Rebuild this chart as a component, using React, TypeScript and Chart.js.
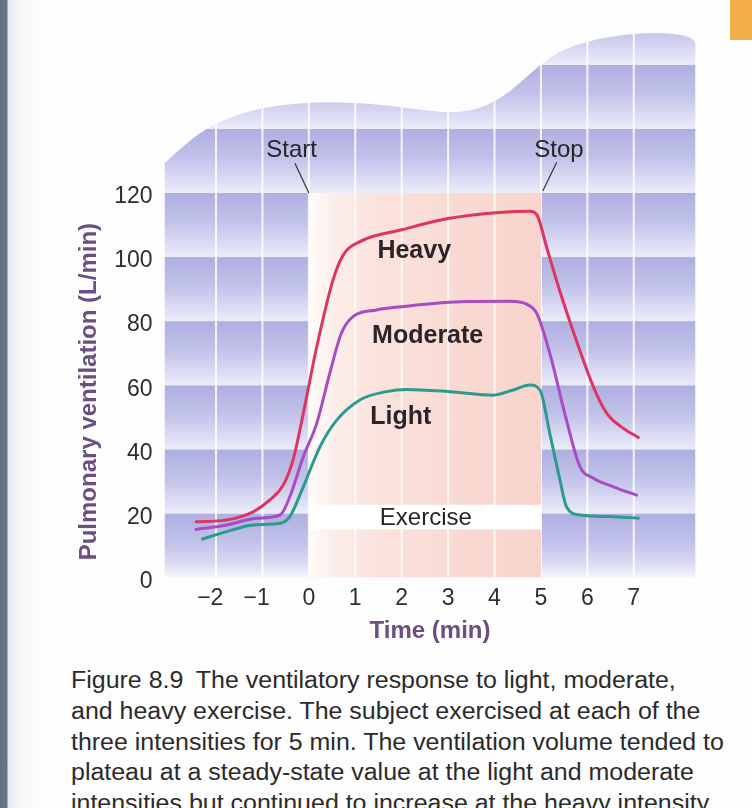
import React, { useEffect, useRef } from "react";
import { Chart, registerables } from "chart.js";

Chart.register(...registerables);

// ---------- data ----------
const xTicks = [-2, -1, 0, 1, 2, 3, 4, 5, 6, 7];
const yTicks = [0, 20, 40, 60, 80, 100, 120];

const heavyTime = [-2.43, -1.8, -1.2, -0.84, -0.55, -0.34, -0.12, 0.17, 0.52, 0.74, 1.1, 2.0, 3.0, 4.1, 4.76, 4.92, 5.12, 5.4, 5.76, 6.13, 6.42, 6.77, 7.1];
const heavyVent = [17.4, 17.9, 20.5, 24.2, 28.9, 36.7, 51.2, 72, 92.8, 100.6, 104.8, 108.5, 112, 113.9, 114.3, 113, 103.2, 89.7, 74.1, 59.5, 51.2, 46.6, 43.7];

const moderateTime = [-2.43, -1.77, -1.13, -0.62, -0.41, -0.12, 0.17, 0.45, 0.7, 0.95, 1.46, 2.0, 3.4, 4.33, 4.69, 4.91, 5.19, 5.55, 5.84, 6.13, 6.56, 7.06];
const moderateVent = [15.0, 16.4, 18.5, 19.5, 25.2, 37.7, 48.1, 63.7, 76.2, 81.4, 83.5, 84.5, 86.1, 86.2, 85.3, 82.4, 70, 49.1, 34.6, 31, 28.3, 25.7];

const lightTime = [-2.29, -1.77, -1.2, -0.62, -0.41, -0.12, 0.24, 0.6, 1.1, 1.67, 2.1, 3.04, 3.97, 4.4, 4.76, 4.98, 5.19, 5.41, 5.55, 5.84, 6.5, 7.1];
const lightVent = [12.0, 14.3, 16.4, 16.9, 19, 28.3, 40.8, 49.1, 55.4, 58, 58.7, 58, 56.9, 58.5, 60.1, 58.5, 45, 30.4, 22.1, 19.5, 19.0, 18.5];

// wavy top outline of the background panel (time, ventilation)
const topEdgeTime = [-3.11, -2.74, -2.22, -1.49, -0.67, 0.26, 1.2, 2.13, 2.99, 3.58, 4.09, 4.5, 5.02, 5.54, 6.27, 7.09, 7.8, 8.23, 8.33];
const topEdgeVent = [129.3, 134.3, 140.2, 144.9, 147.4, 148.4, 148.1, 146.5, 144.9, 145.9, 149, 153.7, 160.5, 165.2, 168.3, 169.9, 169.9, 168.6, 166.8];

const exerciseStart = 0;
const exerciseStop = 5;
const exerciseTop = 120;
const exerciseLabelBand = [15, 22.7];

const seriesNames = ["Heavy", "Moderate", "Light"];
const seriesColors = ["#dd3560", "#a94cc2", "#2b9b8d"];

const captionLines = [
  "Figure 8.9\u2002The ventilatory response to light, moderate,",
  "and heavy exercise. The subject exercised at each of the",
  "three intensities for 5 min. The ventilation volume tended to",
  "plateau at a steady-state value at the light and moderate",
  "intensities but continued to increase at the heavy intensity.",
];

const X_MIN = -3.11;
const X_MAX = 8.33;
const Y_MAX = 171;

const TEXT_FONT = "'Liberation Sans', Arial, Helvetica, sans-serif";

const panelPlugin = {
  id: "panel",
  beforeDatasetsDraw(chart: any) {
    const { ctx, chartArea, scales } = chart;
    const x = scales.x;
    const y = scales.y;
    const y0 = y.getPixelForValue(0);
    ctx.save();
    // clip to wavy panel
    const pts = topEdgeTime.map((t, i) => [x.getPixelForValue(t), y.getPixelForValue(topEdgeVent[i])]);
    ctx.beginPath();
    ctx.moveTo(pts[0][0], y0);
    ctx.lineTo(pts[0][0], pts[0][1]);
    for (let i = 1; i < pts.length - 1; i++) {
      const mx = (pts[i][0] + pts[i + 1][0]) / 2;
      const my = (pts[i][1] + pts[i + 1][1]) / 2;
      ctx.quadraticCurveTo(pts[i][0], pts[i][1], mx, my);
    }
    const last = pts[pts.length - 1];
    ctx.lineTo(last[0], last[1]);
    ctx.lineTo(last[0], y0);
    ctx.closePath();
    ctx.clip();

    const left = chartArea.left;
    const width = chartArea.right - chartArea.left;
    // lavender bands
    for (let v = 0; v < Y_MAX + 20; v += 20) {
      const top = y.getPixelForValue(v + 20);
      const bot = y.getPixelForValue(v);
      const g = ctx.createLinearGradient(0, top, 0, bot);
      g.addColorStop(0, "#aeafe1");
      g.addColorStop(0.45, "#c1c2ea");
      g.addColorStop(0.8, "#dcdcf3");
      g.addColorStop(1, v === 0 ? "#f6f6fc" : "#ececf9");
      ctx.fillStyle = g;
      ctx.fillRect(left, top, width, bot - top);
    }
    // vertical white grid lines
    ctx.strokeStyle = "rgba(255,255,255,0.85)";
    ctx.lineWidth = 2;
    xTicks.forEach((t) => {
      const px = x.getPixelForValue(t);
      ctx.beginPath();
      ctx.moveTo(px, chartArea.top);
      ctx.lineTo(px, y0);
      ctx.stroke();
    });
    // exercise region
    const ex0 = x.getPixelForValue(exerciseStart);
    const ex1 = x.getPixelForValue(exerciseStop);
    const eTop = y.getPixelForValue(exerciseTop);
    const pg = ctx.createLinearGradient(ex0, 0, ex1, 0);
    pg.addColorStop(0, "#fffbf9");
    pg.addColorStop(0.12, "#fcede9");
    pg.addColorStop(0.3, "#fae2dc");
    pg.addColorStop(0.6, "#f9dbd4");
    pg.addColorStop(1, "#f8d4cc");
    ctx.fillStyle = pg;
    ctx.fillRect(ex0, eTop, ex1 - ex0, y0 - eTop);
    ctx.strokeStyle = "rgba(255,255,255,0.75)";
    ctx.lineWidth = 2;
    xTicks.forEach((t) => {
      if (t > exerciseStart && t < exerciseStop) {
        const px = x.getPixelForValue(t);
        ctx.beginPath();
        ctx.moveTo(px, eTop);
        ctx.lineTo(px, y0);
        ctx.stroke();
      }
    });
    // white strip for "Exercise"
    const s0 = y.getPixelForValue(exerciseLabelBand[1]);
    const s1 = y.getPixelForValue(exerciseLabelBand[0]);
    ctx.fillStyle = "#ffffff";
    ctx.fillRect(ex0, s0, ex1 - ex0, s1 - s0);
    ctx.restore();
  },
  afterDatasetsDraw(chart: any) {
    const { ctx, scales } = chart;
    const x = scales.x;
    const y = scales.y;
    ctx.save();
    ctx.textAlign = "center";
    ctx.textBaseline = "middle";
    // series labels
    ctx.fillStyle = "#2c2427";
    ctx.font = `bold 25px ${TEXT_FONT}`;
    const labelPos = [
      [2.27, 101.8],
      [2.56, 75.4],
      [1.98, 50.1],
    ];
    seriesNames.forEach((n, i) => {
      ctx.fillText(n, x.getPixelForValue(labelPos[i][0]), y.getPixelForValue(labelPos[i][1]));
    });
    // Exercise label
    ctx.fillStyle = "#262626";
    ctx.font = `24px ${TEXT_FONT}`;
    ctx.fillText("Exercise", x.getPixelForValue(2.52), y.getPixelForValue(18.3));
    // Start / Stop
    ctx.fillText("Start", x.getPixelForValue(-0.37), y.getPixelForValue(133.4));
    ctx.fillText("Stop", x.getPixelForValue(5.39), y.getPixelForValue(133.4));
    ctx.strokeStyle = "#333";
    ctx.lineWidth = 1.2;
    ctx.beginPath();
    ctx.moveTo(x.getPixelForValue(-0.3), y.getPixelForValue(129.3));
    ctx.lineTo(x.getPixelForValue(0), y.getPixelForValue(120));
    ctx.moveTo(x.getPixelForValue(5.34), y.getPixelForValue(129.6));
    ctx.lineTo(x.getPixelForValue(5.04), y.getPixelForValue(120.6));
    ctx.stroke();
    ctx.restore();
  },
  afterDraw(chart: any) {
    const { ctx, scales } = chart;
    const y = scales.y;
    ctx.save();
    ctx.fillStyle = "#6b4f82";
    ctx.font = `bold 24px ${TEXT_FONT}`;
    ctx.textAlign = "center";
    ctx.textBaseline = "middle";
    ctx.translate(89, (y.getPixelForValue(3) + y.getPixelForValue(113)) / 2);
    ctx.rotate(-Math.PI / 2);
    ctx.fillText("Pulmonary ventilation (L/min)", 0, 0);
    ctx.restore();
  },
};

function toPoints(ts: number[], vs: number[]) {
  return ts.map((t, i) => ({ x: t, y: vs[i] }));
}

export default function App() {
  const ref = useRef<HTMLCanvasElement | null>(null);

  useEffect(() => {
    if (!ref.current) return;
    const series = [
      toPoints(heavyTime, heavyVent),
      toPoints(moderateTime, moderateVent),
      toPoints(lightTime, lightVent),
    ];
    const chart = new Chart(ref.current, {
      type: "line",
      data: {
        datasets: series.map((d, i) => ({
          label: seriesNames[i],
          data: d,
          borderColor: seriesColors[i],
          borderWidth: 3,
          pointRadius: 0,
          fill: false,
          cubicInterpolationMode: "monotone" as const,
          borderCapStyle: "round" as const,
        })),
      },
      options: {
        responsive: false,
        animation: false,
        events: [],
        layout: { padding: { left: 0, right: 56.5, top: 29.5, bottom: 0 } },
        plugins: { legend: { display: false }, tooltip: { enabled: false } },
        scales: {
          x: {
            type: "linear",
            min: X_MIN,
            max: X_MAX,
            grid: { display: false, drawTicks: false },
            border: { display: false },
            afterBuildTicks: (s: any) => {
              s.ticks = xTicks.map((v) => ({ value: v }));
            },
            afterFit: (s: any) => {
              s.height = 650 - 577.5;
            },
            ticks: {
              padding: 7,
              color: "#2e2e2e",
              font: { family: TEXT_FONT, size: 23 },
              callback: (v: any) => (v < 0 ? "\u2212" + Math.abs(v) + "\u2002" : String(v)),
            },
            title: {
              display: true,
              text: "Time (min)",
              color: "#6b4f82",
              font: { family: TEXT_FONT, size: 24, weight: "bold" },
              padding: { top: 0, bottom: 4 },
            },
          },
          y: {
            type: "linear",
            min: 0,
            max: Y_MAX,
            grid: { display: false, drawTicks: false },
            border: { display: false },
            afterBuildTicks: (s: any) => {
              s.ticks = yTicks.map((v) => ({ value: v }));
            },
            afterFit: (s: any) => {
              s.width = 164.5;
            },
            ticks: {
              padding: 12,
              labelOffset: 4,
              color: "#2e2e2e",
              font: { family: TEXT_FONT, size: 23 },
            },
          },
        },
      },
      plugins: [panelPlugin],
    });
    return () => chart.destroy();
  }, []);

  return (
    <div
      style={{
        position: "absolute",
        left: 0,
        top: 0,
        width: 752,
        height: 808,
        overflow: "hidden",
        background: "#fdfdfd",
      }}
    >
      <div
        style={{
          position: "absolute",
          left: 0,
          top: 0,
          width: 40,
          height: 808,
          background: "linear-gradient(to right, #667183 0px, #6b7687 7px, #e4e7ec 8px, #f6f7f8 20px, #fdfdfd 40px)",
        }}
      />
      <div style={{ position: "absolute", left: 730, top: 0, width: 22, height: 40, background: "#f1ae49" }} />
      <canvas ref={ref} width={752} height={650} style={{ position: "absolute", left: 0, top: 0, width: 752, height: 650 }} />
      <div
        style={{
          position: "absolute",
          left: 71,
          top: 665,
          fontFamily: TEXT_FONT,
          fontSize: 23,
          lineHeight: "30.8px",
          color: "#2b2b2b",
          whiteSpace: "nowrap",
          transform: "scaleX(1.085)",
          transformOrigin: "0 0",
        }}
      >
        {captionLines.map((l, i) => (
          <div key={i}>{l}</div>
        ))}
      </div>
    </div>
  );
}
